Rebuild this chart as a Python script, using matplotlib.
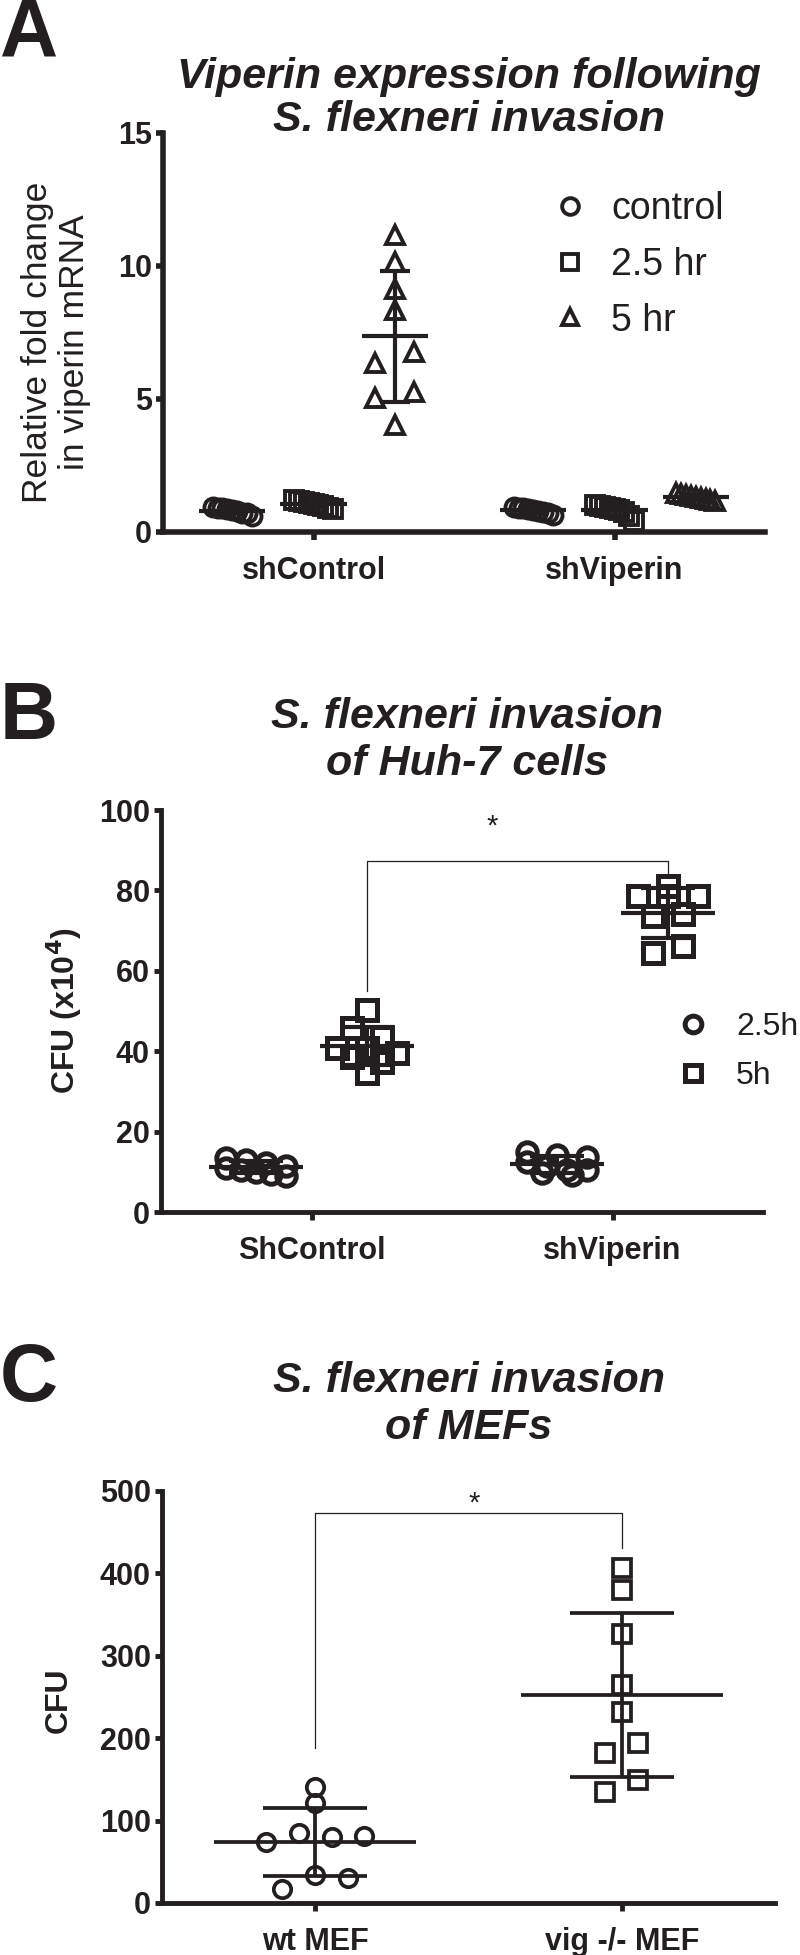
import numpy as np
import matplotlib
matplotlib.use('Agg')
import matplotlib.pyplot as plt
from matplotlib.lines import Line2D

plt.rcParams['font.family'] = ['Liberation Sans', 'DejaVu Sans']

INK = '#231f20'
W, H = 800, 1955

# ---- panel A data: relative fold change in viperin mRNA
a_groups = ['shControl', 'shViperin']
a_series = ['control', '2.5 hr', '5 hr']
a_markers = ['o', 's', '^']
a_shcontrol_control = [0.95, 0.92, 0.9, 0.85, 0.82, 0.78, 0.72, 0.7, 0.62]
a_shcontrol_25 = [1.2, 1.15, 1.12, 1.08, 1.05, 1.0, 0.98, 0.9, 0.85]
a_shcontrol_5 = [11.17, 10.16, 9.12, 8.35, 6.34, 6.78, 5.03, 5.27, 4.02]
a_shviperin_control = [0.95, 0.92, 0.9, 0.86, 0.82, 0.8, 0.75, 0.7, 0.65]
a_shviperin_25 = [1.0, 0.98, 0.95, 0.9, 0.88, 0.82, 0.75, 0.6, 0.4]
a_shviperin_5 = [1.45, 1.42, 1.38, 1.35, 1.3, 1.28, 1.25, 1.2, 1.15]

# ---- panel B data: CFU (x10^4) in Huh-7 cells
b_groups = ['ShControl', 'shViperin']
b_series = ['2.5h', '5h']
b_markers = ['o', 's']
b_shcontrol_25 = [13.5, 13, 12.2, 11.5, 11, 10.5, 10, 9.5, 9]
b_shcontrol_5 = [50.2, 45.8, 43.6, 40.7, 40.7, 39.5, 38.5, 37.4, 34.7]
b_shviperin_25 = [15, 14.2, 13.8, 12.5, 11.5, 10.4, 10.4, 9.7, 9.2]
b_shviperin_5 = [81.2, 78.7, 78.5, 78.7, 73.6, 74.1, 64.4, 66.2]

# ---- panel C data: CFU in MEFs
c_groups = ['wt MEF', 'vig -/- MEF']
c_wt = [141, 120.8, 74.1, 85, 79.5, 81.4, 17.5, 33.7, 30.9]
c_vig = [406.7, 380, 326.9, 265, 231.7, 181.9, 194, 134.5, 149.7]


def fx(x):
    return x / W


def fy(y):
    return 1 - y / H


def spread(vals, row_h, step, span):
    # rows of similar values, points laid side by side in each row
    vals = np.asarray(vals, float)
    rows = []
    for i in np.argsort(-vals, kind='stable'):
        if rows and rows[-1][0] - vals[i] <= row_h:
            rows[-1][1].append(i)
        else:
            rows.append([vals[i], [i]])
    off = np.zeros(len(vals))
    for top, idx in rows:
        n = len(idx)
        s = step if (n - 1) * step <= span else span / (n - 1)
        for k, i in enumerate(sorted(idx)):
            off[i] = (k - (n - 1) / 2) * s
    return off


def dots(ax, x, vals, marker, ms, mew, row_h, step, span, hw, cw, lw):
    vals = np.asarray(vals, float)
    xs = x + spread(vals, row_h, step, span)
    ax.plot(xs, vals, ls='none', marker=marker, ms=ms, mfc='none', mec=INK,
            mew=mew, zorder=3, clip_on=False)
    m, sd = vals.mean(), vals.std(ddof=1)
    ax.plot([x - hw, x + hw], [m, m], color=INK, lw=lw, zorder=4, solid_capstyle='butt')
    ax.plot([x, x], [m - sd, m + sd], color=INK, lw=lw, zorder=4, solid_capstyle='butt')
    for y in (m - sd, m + sd):
        ax.plot([x - cw, x + cw], [y, y], color=INK, lw=lw, zorder=4, solid_capstyle='butt')


def style(ax, ylim, yticks, labels, spw):
    ax.set_xlim(0.5, 2.5)
    ax.set_ylim(*ylim)
    ax.set_yticks(yticks)
    ax.set_xticks([1, 2])
    ax.set_xticklabels(labels)
    for s in ('top', 'right'):
        ax.spines[s].set_visible(False)
    for s in ('left', 'bottom'):
        ax.spines[s].set_linewidth(spw)
        ax.spines[s].set_color(INK)
        ax.spines[s].set_capstyle('projecting')
    ax.tick_params(axis='y', length=5, width=spw, color=INK, pad=3, labelsize=22,
                   labelcolor=INK)
    ax.tick_params(axis='x', length=6, width=spw, color=INK, pad=11, labelsize=22,
                   labelcolor=INK)
    for t in ax.get_xticklabels() + ax.get_yticklabels():
        t.set_fontweight('bold')


fig = plt.figure(figsize=(8, 19.55), dpi=100)

# ================= A =================
axA = fig.add_axes([fx(163), fy(532), 602 / W, 399 / H])
a_data = [[a_shcontrol_control, a_shcontrol_25, a_shcontrol_5],
          [a_shviperin_control, a_shviperin_25, a_shviperin_5]]
for gi, grp in enumerate(a_data):
    for si, vals in enumerate(grp):
        x = gi + 1 + (si - 1) * 0.27
        dots(axA, x, vals, a_markers[si], 13, 2.8, 0.6, 0.13, 0.13,
             0.11, 0.05, 3.0)
style(axA, (0, 15), [0, 5, 10, 15], a_groups, 4)
hA = [Line2D([], [], ls='none', marker=m, ms=12, mfc='none', mec=INK, mew=2.8)
      for m in a_markers]
axA.legend(hA, a_series, loc='upper left', bbox_to_anchor=(0.645, 0.855),
           frameon=False, handlelength=1.0, handletextpad=0.6, labelspacing=0.53,
           borderpad=0, borderaxespad=0, prop=dict(size=27), labelcolor=INK)
fig.text(fx(56), fy(342), 'Relative fold change\nin viperin mRNA', rotation=90,
         ha='center', va='center', fontsize=25.5, color=INK, linespacing=1.12)
fig.text(fx(469), fy(77), 'Viperin expression following', ha='center', va='center',
         fontsize=31, fontweight='bold', fontstyle='italic', color=INK)
fig.text(fx(469), fy(120), 'S. flexneri invasion', ha='center', va='center',
         fontsize=31, fontweight='bold', fontstyle='italic', color=INK)
fig.text(0, 1.002, 'A', ha='left', va='top', fontsize=58, fontweight='bold', color=INK)

# ================= B =================
axB = fig.add_axes([fx(161), fy(1212), 602 / W, 402 / H])
b_data = [[b_shcontrol_25, b_shcontrol_5], [b_shviperin_25, b_shviperin_5]]
for gi, grp in enumerate(b_data):
    for si, vals in enumerate(grp):
        x = gi + 1 + (si - 0.5) * 0.37
        dots(axB, x, vals, b_markers[si], 14, 3.6, 2.2, 0.1, 0.2,
             0.156, 0.09, 3.0)
style(axB, (0, 100), [0, 20, 40, 60, 80, 100], b_groups, 3.5)
axB.plot([1.185, 1.185, 2.185, 2.185], [55, 87.3, 87.3, 83.3], color=INK, lw=0.9,
         clip_on=False)
axB.text(1.6, 95.8, '*', ha='center', va='center', fontsize=21, color=INK)
hB = [Line2D([], [], ls='none', marker=m, ms=12, mfc='none', mec=INK, mew=3.6)
      for m in b_markers]
axB.legend(hB, b_series, loc='upper left', bbox_to_anchor=(0.857, 0.4975),
           frameon=False, handlelength=1.0, handletextpad=0.85, labelspacing=0.6,
           borderpad=0, borderaxespad=0, prop=dict(size=23), labelcolor=INK)
fig.text(fx(64), fy(1011), 'CFU (x10$^{\\mathbf{4}}$)', rotation=90, ha='center',
         va='center', fontsize=23, fontweight='bold', color=INK)
fig.text(fx(467), fy(717), 'S. flexneri invasion', ha='center', va='center',
         fontsize=31, fontweight='bold', fontstyle='italic', color=INK)
fig.text(fx(467), fy(764), 'of Huh-7 cells', ha='center', va='center',
         fontsize=31, fontweight='bold', fontstyle='italic', color=INK)
fig.text(0, fy(680), 'B', ha='left', va='top', fontsize=58, fontweight='bold', color=INK)

# ================= C =================
axC = fig.add_axes([fx(162), fy(1903), 613 / W, 412 / H])
for gi, vals in enumerate([c_wt, c_vig]):
    dots(axC, gi + 1, vals, ['o', 's'][gi], 12.5, 2.7, 17, 0.107, 0.33,
         0.33, 0.17, 2.7)
style(axC, (0, 500), [0, 100, 200, 300, 400, 500], c_groups, 3.5)
axC.plot([1, 1, 2, 2], [188.5, 473, 473, 431], color=INK, lw=0.9, clip_on=False)
axC.text(1.518, 485, '*', ha='center', va='center', fontsize=21, color=INK)
fig.text(fx(59), fy(1700), 'CFU', rotation=90, ha='center', va='center',
         fontsize=23, fontweight='bold', color=INK)
fig.text(fx(469), fy(1381), 'S. flexneri invasion', ha='center', va='center',
         fontsize=31, fontweight='bold', fontstyle='italic', color=INK)
fig.text(fx(469), fy(1428), 'of MEFs', ha='center', va='center',
         fontsize=31, fontweight='bold', fontstyle='italic', color=INK)
fig.text(0, fy(1342), 'C', ha='left', va='top', fontsize=58, fontweight='bold', color=INK)

fig.savefig('out.png', dpi=100)
